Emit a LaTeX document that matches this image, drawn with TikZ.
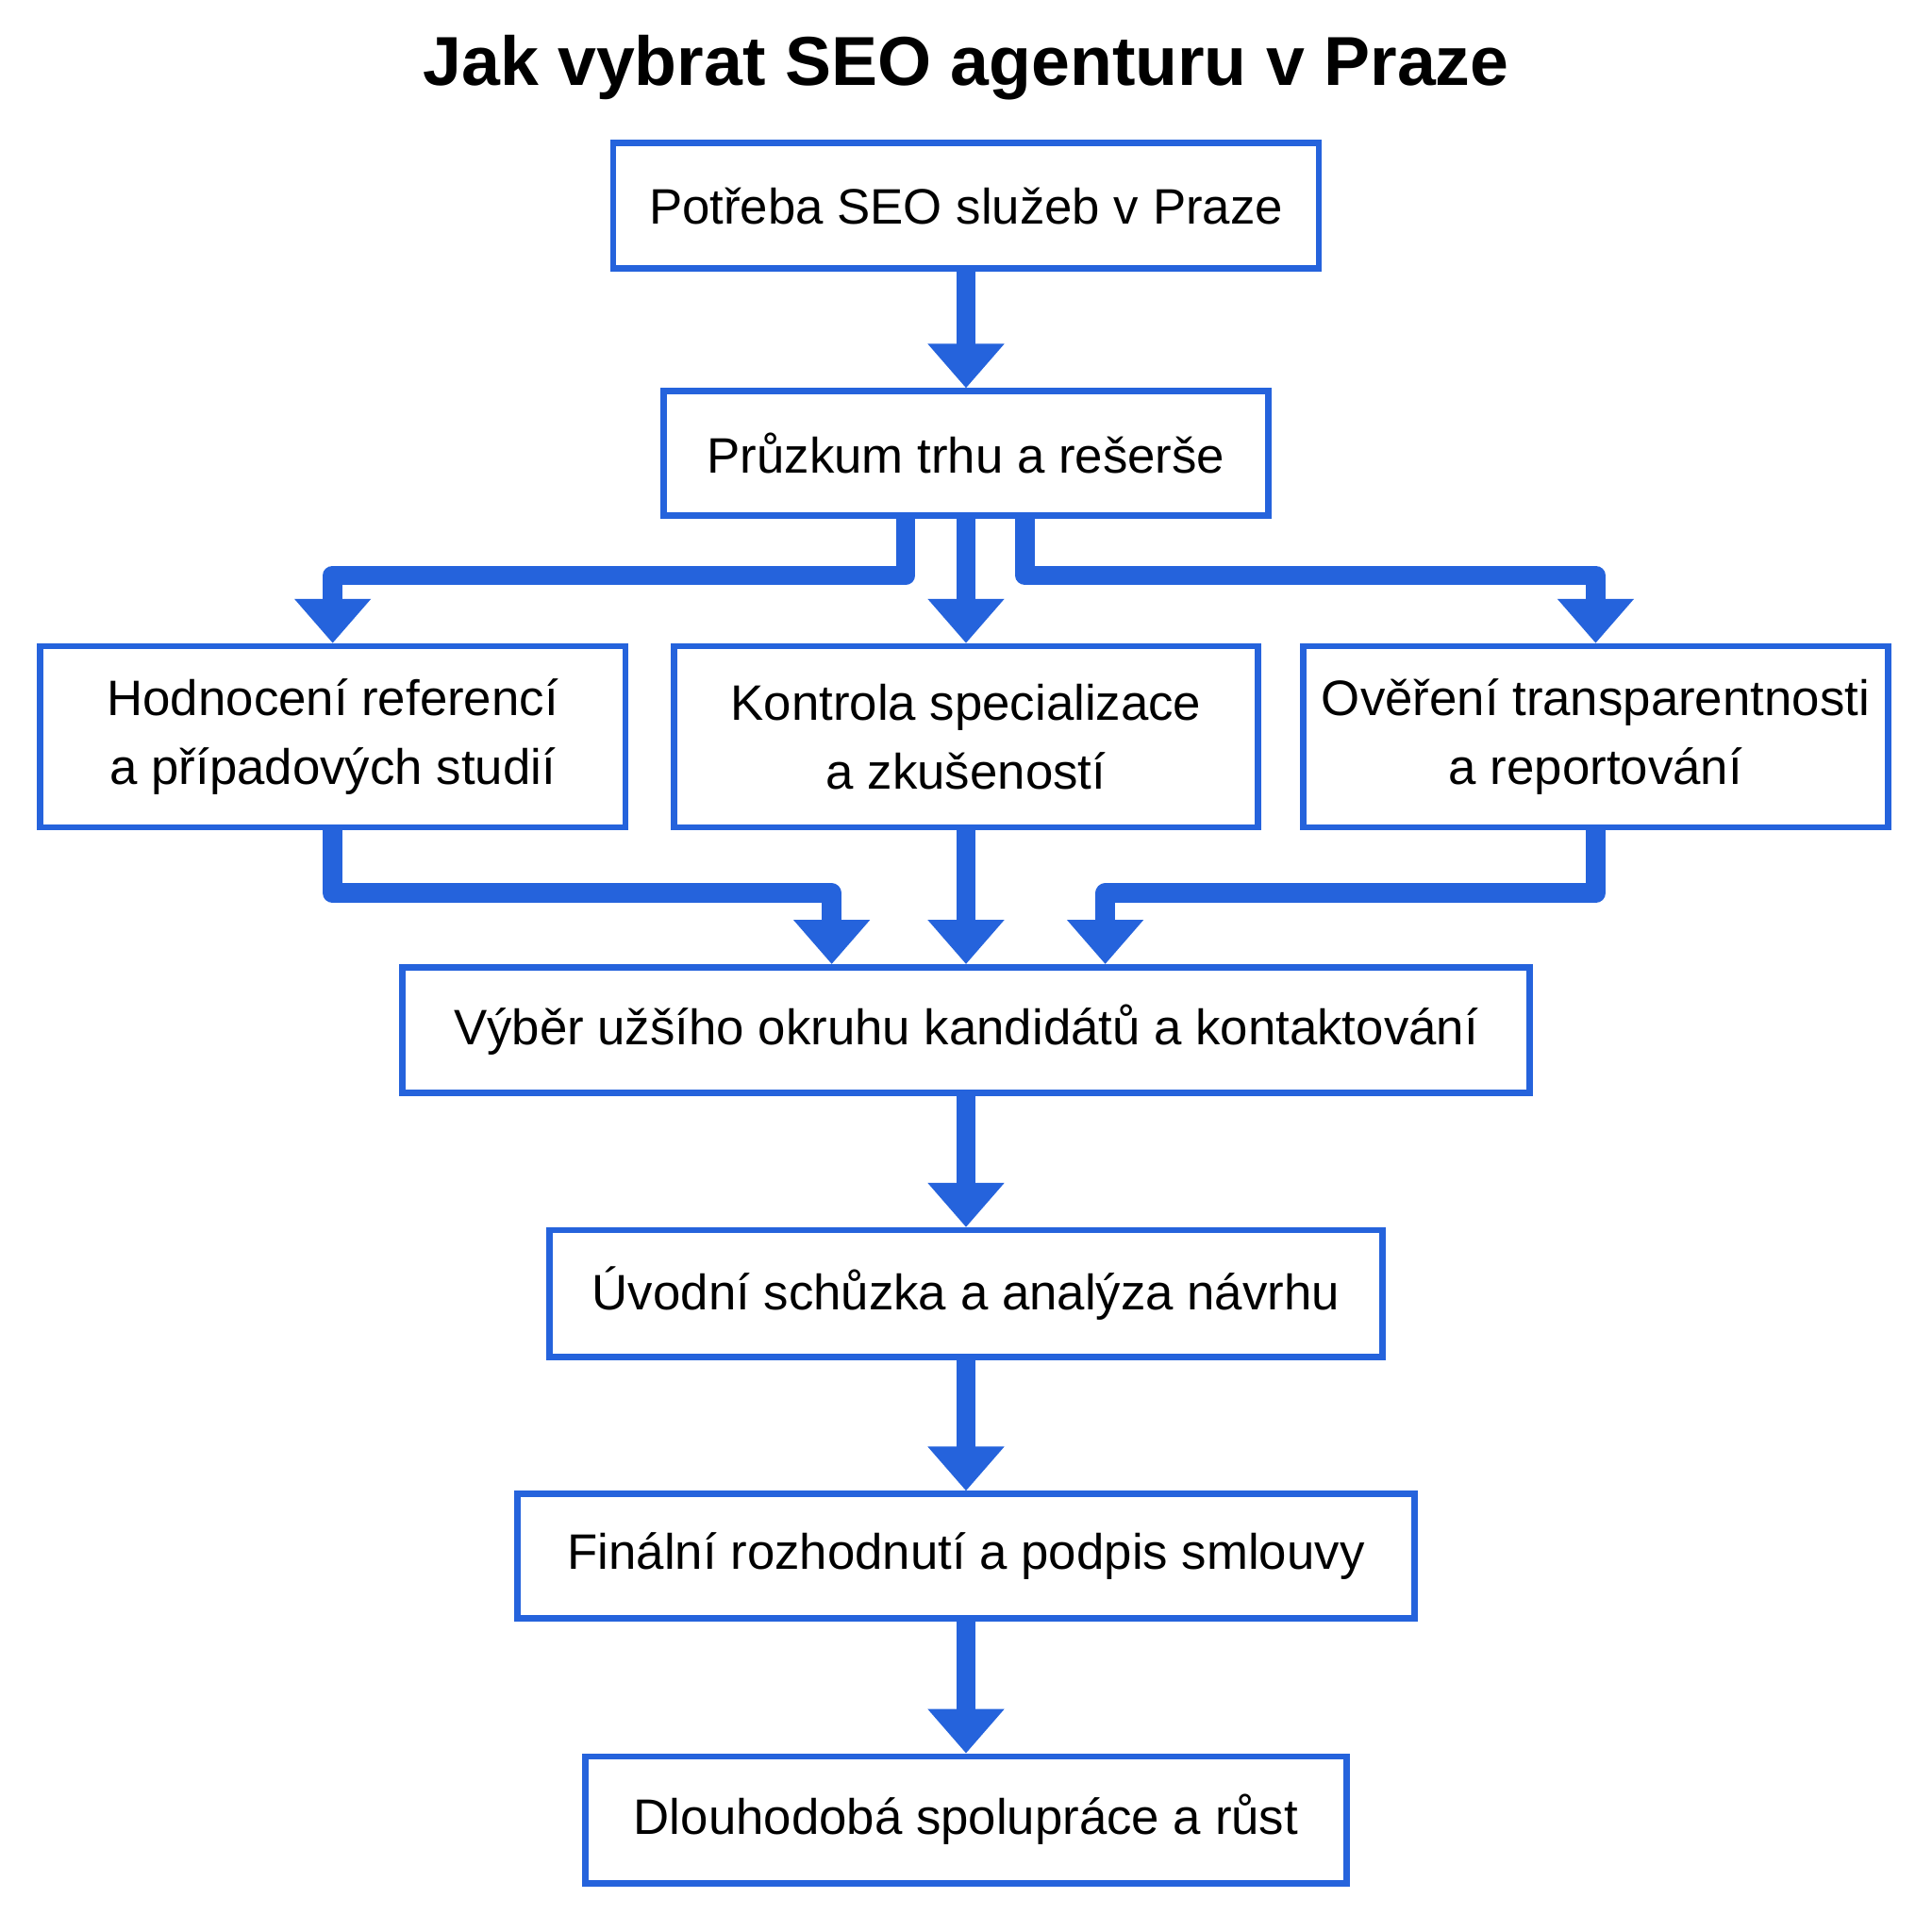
\documentclass[tikz,border=0pt]{standalone}
\usepackage{fontspec}
\setmainfont{Liberation Sans}
\usetikzlibrary{arrows.meta,calc}
\definecolor{flowblue}{RGB}{37,99,220}
\begin{document}
\begin{tikzpicture}[
  box/.style={draw=flowblue, line width=0.05cm, fill=white, inner sep=0pt,
    align=center, font=\fontsize{11.5}{16}\selectfont},
  flow/.style={draw=flowblue, line width=0.16cm, line join=round,
    -{Triangle[width=0.6cm,length=0.36cm]}, color=flowblue}
]
\useasboundingbox (0,0) rectangle (15.68,-15.54);
% title
\node[font=\bfseries\fontsize{16}{19}\selectfont] (title) at (7.84,-0.55) {Jak vybrat SEO agenturu v Praze};

% boxes
\node[box, minimum width=5.73cm, minimum height=1.02cm] (need) at (7.84,-1.67) {Potřeba SEO služeb v Praze};
\node[box, minimum width=4.91cm, minimum height=1.01cm] (research) at (7.84,-3.68) {Průzkum trhu a rešerše};
\node[box, minimum width=4.75cm, minimum height=1.47cm] (refs) at (2.70,-5.98) {Hodnocení referencí\\a případových studií};
\node[box, minimum width=4.74cm, minimum height=1.47cm] (spec) at (7.84,-5.98) {Kontrola specializace\\a zkušeností};
\node[box, minimum width=4.75cm, minimum height=1.47cm] (transp) at (12.95,-5.98) {Ověření transparentnosti\\a reportování};
\node[box, minimum width=9.15cm, minimum height=1.02cm] (short) at (7.84,-8.36) {Výběr užšího okruhu kandidátů a kontaktování};
\node[box, minimum width=6.76cm, minimum height=1.03cm] (meet) at (7.84,-10.50) {Úvodní schůzka a analýza návrhu};
\node[box, minimum width=7.28cm, minimum height=1.01cm] (final) at (7.84,-12.63) {Finální rozhodnutí a podpis smlouvy};
\node[box, minimum width=6.18cm, minimum height=1.03cm] (grow) at (7.84,-14.77) {Dlouhodobá spolupráce a růst};

% connectors
\draw[flow] (need) -- (research);
\draw[flow] ($(research.south)+(-0.49,0)$) |- (2.70,-4.67) -- (refs.north);
\draw[flow] (research) -- (spec);
\draw[flow] ($(research.south)+(0.48,0)$) |- (12.95,-4.67) -- (transp.north);
\draw[flow] (refs.south) |- (6.75,-7.25) -- ($(short.north)+(-1.09,0)$);
\draw[flow] (spec) -- (short);
\draw[flow] (transp.south) |- (8.97,-7.25) -- ($(short.north)+(1.13,0)$);
\draw[flow] (short) -- (meet);
\draw[flow] (meet) -- (final);
\draw[flow] (final) -- (grow);
\end{tikzpicture}
\end{document}
